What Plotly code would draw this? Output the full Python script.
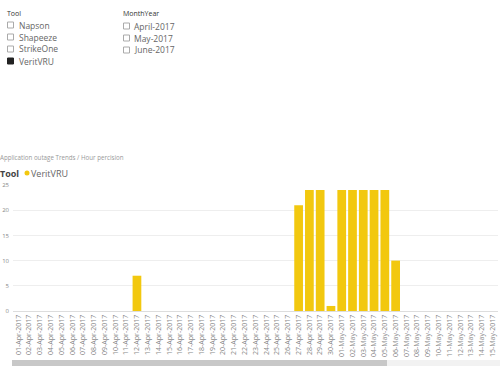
import plotly.graph_objects as go

# ---- data ----
apr_days = [f"{d:02d}-Apr-2017" for d in range(1, 31)]
may_days = [f"{d:02d}-May-2017" for d in range(1, 16)]
categories = apr_days + may_days
outages = {"12-Apr-2017": 7, "27-Apr-2017": 21, "28-Apr-2017": 24, "29-Apr-2017": 24,
           "30-Apr-2017": 1, "01-May-2017": 24, "02-May-2017": 24, "03-May-2017": 24,
           "04-May-2017": 24, "05-May-2017": 24, "06-May-2017": 10}
values = [outages.get(c, 0) for c in categories]
tool_items = ["Napson", "Shapeeze", "StrikeOne", "VeritVRU"]
tool_selected = [False, False, False, True]
month_items = ["April-2017", "May-2017", "June-2017"]
y_ticks = [0, 5, 10, 15, 20, 25]

W, H = 500, 373
L, R, T, B = 13, 498, 185, 311
FONT = "Open Sans, DejaVu Sans, sans-serif"

def px(x):
    return (x - L) / (R - L)

def py(y):
    return (B - y) / (B - T)

fig = go.Figure(go.Bar(x=categories, y=values, marker_color="#F2C80F",
                       marker_line_width=0, showlegend=False))

annotations = []
shapes = []

def text(x, y, s, size, color, xanchor="left"):
    annotations.append(dict(x=px(x), y=py(y), xref="paper", yref="paper", text=s,
                            showarrow=False, xanchor=xanchor, yanchor="middle",
                            borderpad=0,
                            font=dict(size=size, color=color, family=FONT)))

# slicers
text(6, 13, "Tool", 7, "#333333")
for i, (name, sel) in enumerate(zip(tool_items, tool_selected)):
    y = 25 + 12 * i
    shapes.append(dict(type="rect", xref="paper", yref="paper",
                       x0=px(7.5), x1=px(13.5), y0=py(y - 3), y1=py(y + 3),
                       line=dict(color="#222222" if sel else "#aaaaaa", width=1),
                       fillcolor="#222222" if sel else "rgba(0,0,0,0)"))
    text(18, y, name, 8.5, "#666666")

text(122, 13, "MonthYear", 7, "#333333")
for i, name in enumerate(month_items):
    y = 26 + 12 * i
    shapes.append(dict(type="rect", xref="paper", yref="paper",
                       x0=px(123.5), x1=px(129.5), y0=py(y - 3), y1=py(y + 3),
                       line=dict(color="#aaaaaa", width=1), fillcolor="rgba(0,0,0,0)"))
    text(133, y, name, 8.5, "#666666")

# chart title and legend
text(-1, 157, "Application outage Trends / Hour percision", 6.2, "#999999")
text(-1, 173, "<b>Tool</b>", 9, "#444444")
shapes.append(dict(type="circle", xref="paper", yref="paper",
                   x0=px(24.5), x1=px(29.5), y0=py(170.5), y1=py(175.5),
                   fillcolor="#F2C80F", line=dict(width=0)))
text(30, 173, "VeritVRU", 9, "#666666")

# scrollbar
shapes.append(dict(type="rect", xref="paper", yref="paper",
                   x0=px(12), x1=px(500), y0=py(360), y1=py(366),
                   fillcolor="#f2f2f2", line=dict(width=0)))
shapes.append(dict(type="rect", xref="paper", yref="paper",
                   x0=px(12), x1=px(387), y0=py(360), y1=py(366),
                   fillcolor="#c8c8c8", line=dict(width=0)))

fig.update_layout(
    width=W, height=H,
    margin=dict(l=L, r=W - R, t=T, b=H - B),
    paper_bgcolor="white", plot_bgcolor="white",
    bargap=0.19,
    font=dict(family=FONT),
    annotations=annotations, shapes=shapes,
    xaxis=dict(type="category", tickangle=-90, tickfont=dict(size=7, color="#888888"),
               showline=True, linecolor="#dddddd", linewidth=1, showgrid=False,
               ticks="", automargin=False),
    yaxis=dict(range=[0, 25], tickvals=y_ticks, tickfont=dict(size=6, color="#888888"),
               showgrid=True, gridcolor="#eeeeee", zeroline=False, ticks="",
               ticklabelstandoff=3, automargin=False),
)

fig.write_html("out.html", config={"displayModeBar": False},
               post_script="document.body.style.margin='0';document.body.style.overflow='hidden';")
